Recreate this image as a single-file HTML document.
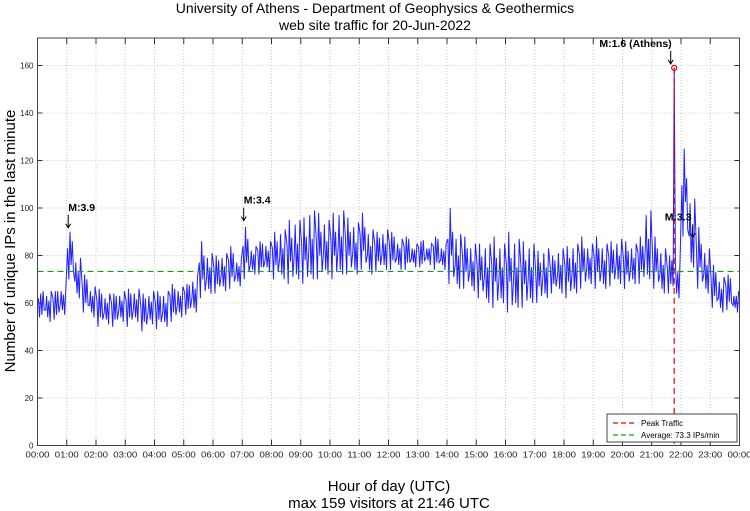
<!DOCTYPE html>
<html><head><meta charset="utf-8"><style>
body{margin:0;background:#fff;}
svg{display:block;font-family:"Liberation Sans",sans-serif;}
</style></head><body>
<svg id="c" width="750" height="511" viewBox="0 0 750 511">
<text x="375" y="13" text-anchor="middle" font-size="14">University of Athens - Department of Geophysics &amp; Geothermics</text>
<text x="375" y="30" text-anchor="middle" font-size="14">web site traffic for 20-Jun-2022</text>
<text transform="translate(15,241) rotate(-90)" text-anchor="middle" font-size="15">Number of unique IPs in the last minute</text>
<text x="389" y="491" text-anchor="middle" font-size="15">Hour of day (UTC)</text>
<text x="389" y="508" text-anchor="middle" font-size="15">max 159 visitors at 21:46 UTC</text>
<g id="grid"></g><g id="series"></g><g id="overlay"></g>
</svg>
<script>
const yTicks=[0,20,40,60,80,100,120,140,160];
const xTickLabels=["00:00","01:00","02:00","03:00","04:00","05:00","06:00","07:00","08:00","09:00","10:00","11:00","12:00","13:00","14:00","15:00","16:00","17:00","18:00","19:00","20:00","21:00","22:00","23:00","00:00"];
const lowValues=[54,52,53,55,70,62,56,54,50,51,50,52,50,52,48,51,49,50,52,54,55,56,62,64,64,65,66,67,70,72,72,73,70,70,68,70,68,70,70,72,70,72,72,72,74,72,73,74,74,74,74,75,75,76,74,74,68,66,66,65,62,60,58,60,56,58,58,60,60,62,64,64,62,64,66,68,66,66,67,68,66,68,68,70,66,64,64,62,88,75,66,64,58,56,57,56];
const highValues=[64,66,65,68,90,80,72,68,66,65,64,66,66,67,64,66,65,66,68,68,68,72,86,82,80,82,84,80,92,85,86,87,90,92,95,96,96,100,98,96,98,100,96,95,98,92,90,92,90,88,88,86,86,86,88,86,100,90,88,86,85,86,88,86,90,88,86,86,82,84,80,84,84,86,88,86,88,86,86,88,86,86,88,100,88,84,80,80,125,105,92,84,76,72,72,66];
const peakHour=21.767, peakValue=159, averageValue=73.3;
const annotations=[{h:1.05,v:90,t:"M:3.9",dx:0},{h:7.05,v:93,t:"M:3.4",dx:0},{h:21.75,v:159,t:"M:1.6 (Athens)",dx:-2},{h:22.4,v:86,t:"M:3.3",dx:-28}];
const L=37.5,R=739.5,T=38,B=445.5,NS="http://www.w3.org/2000/svg";
const x=h=>L+(R-L)*h/24, y=v=>B-(B-65.5)*v/160;
function mk(tag,attrs,parent,txt){const e=document.createElementNS(NS,tag);for(const k in attrs)e.setAttribute(k,attrs[k]);if(txt!==undefined)e.textContent=txt;parent.appendChild(e);return e;}
const g=document.getElementById('grid'),s=document.getElementById('series'),o=document.getElementById('overlay');
yTicks.forEach(v=>{
 if(v>0){const l=mk('line',{x1:L,x2:R,y1:y(v),y2:y(v),stroke:'#bbb','stroke-width':0.8,'stroke-dasharray':'1,2'},g);
 
 }
 mk('line',{x1:L,x2:L+5,y1:y(v),y2:y(v),stroke:'#333'},g);
 mk('line',{x1:R-5,x2:R,y1:y(v),y2:y(v),stroke:'#333'},g);
 const t=mk('text',{x:L-4,y:y(v)+3,'text-anchor':'end','font-size':8,fill:'#222'},g,v);
 
 
});
xTickLabels.forEach((lab,i)=>{
 if(i>0&&i<24){const l=mk('line',{x1:x(i),x2:x(i),y1:T,y2:B,stroke:'#bbb','stroke-width':0.8,'stroke-dasharray':'1,2'},g);
 
 }
 mk('line',{x1:x(i),x2:x(i),y1:B-6,y2:B,stroke:'#333'},g);
 mk('line',{x1:x(i),x2:x(i),y1:T,y2:T+6,stroke:'#333'},g);
 const t=mk('text',{x:x(i),y:B+12,'text-anchor':'middle','font-size':8,fill:'#222',textLength:24,lengthAdjust:'spacingAndGlyphs'},g,lab);
 
 
});
const ax=mk('rect',{x:L,y:T,width:R-L,height:B-T,fill:'none',stroke:'#444','stroke-width':1},g);


let pts=[];
lowValues.forEach((lo,i)=>{
 const h0=i/4, hi=highValues[i], m=(lo+hi)/2;
 if(i%2===0) pts.push([h0+0.03,m+3],[h0+0.07,lo],[h0+0.11,hi],[h0+0.15,m-4],[h0+0.19,m+6],[h0+0.23,lo+3]);
 else pts.push([h0+0.03,m-2],[h0+0.06,hi-3],[h0+0.1,lo+2],[h0+0.14,m+2],[h0+0.18,lo],[h0+0.22,hi-1]);
});
pts=pts.filter(p=>Math.abs(p[0]-peakHour)>0.03);
pts.push([peakHour,peakValue]);pts.sort((a,b)=>a[0]-b[0]);
const pl=mk('polyline',{points:pts.map(p=>x(p[0]).toFixed(1)+','+y(p[1]).toFixed(1)).join(' '),fill:'none',stroke:'#2020ff','stroke-width':1,'stroke-linejoin':'miter'},s);


const av=mk('line',{x1:L,x2:R,y1:y(averageValue),y2:y(averageValue),stroke:'#1a9a1a','stroke-width':1.2,'stroke-dasharray':'6,4'},o);


const pk=mk('line',{x1:x(peakHour),x2:x(peakHour),y1:y(peakValue),y2:B,stroke:'#e00','stroke-width':1.2,'stroke-dasharray':'6,4'},o);


const pc=mk('circle',{cx:x(peakHour),cy:y(peakValue),r:2.5,fill:'none',stroke:'#e00','stroke-width':1.2},o);


annotations.forEach(a=>{
 const ty=y(a.v)-12;
 const big=a.t.length>6;
 const t=mk('text',{x:x(a.h)+a.dx,y:ty-9,'text-anchor':big?'end':'start','font-size':10.5,'font-weight':'bold'},o,a.t);
 
 
 const ax0=x(a.h)+(big?-3:0);
 const ar=mk('path',{d:`M${ax0},${ty-5} V${ty+8} M${ax0-2.5},${ty+4} L${ax0},${ty+8} L${ax0+2.5},${ty+4}`,fill:'none',stroke:'#000','stroke-width':1},o);
 
 
});
const lg=mk('g',{},o);


mk('rect',{x:607,y:414,width:130,height:28,fill:'#fff',stroke:'#444'},lg);
mk('line',{x1:613,x2:636,y1:423,y2:423,stroke:'#e00','stroke-width':1.2,'stroke-dasharray':'5,3'},lg);
mk('line',{x1:613,x2:636,y1:435,y2:435,stroke:'#1a9a1a','stroke-width':1.2,'stroke-dasharray':'5,3'},lg);
const e1=mk('text',{x:641,y:426,'font-size':8},lg,'Peak Traffic');


const e2=mk('text',{x:641,y:438,'font-size':8},lg,'Average: 73.3 IPs/min');


</script>
</body></html>
